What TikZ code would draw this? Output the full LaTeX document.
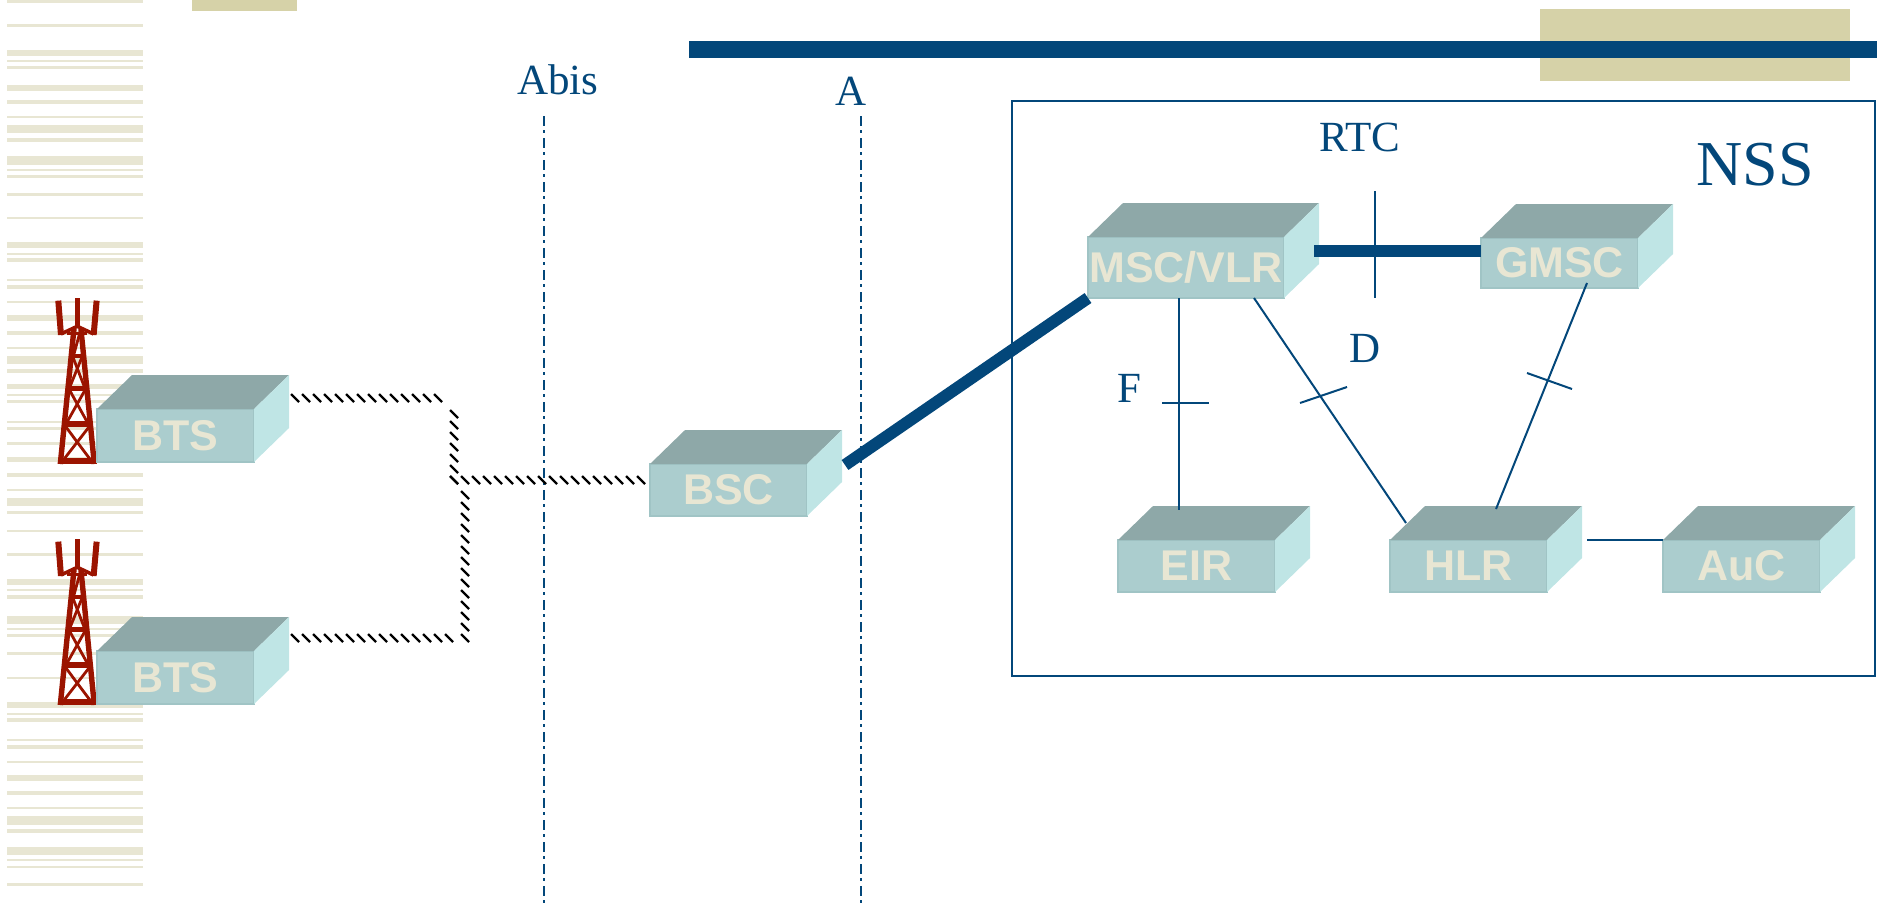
\documentclass[tikz,border=0pt]{standalone}
\usepackage{fontspec}
\setmainfont{Liberation Serif}
\setsansfont{Liberation Sans}
\usetikzlibrary{decorations.pathreplacing}

\definecolor{navy}{HTML}{03477A}
\definecolor{tan}{HTML}{D6D2A8}
\definecolor{barcol}{HTML}{E8E6D3}
\definecolor{boxfront}{HTML}{ABCDCE}
\definecolor{boxedge}{HTML}{A0C4C5}
\definecolor{boxtop}{HTML}{8EA8A8}
\definecolor{boxside}{HTML}{BFE5E5}
\definecolor{towercol}{HTML}{9B1400}

\tikzset{
    boxlabel/.style={fill=boxfront, draw=boxedge, line width=1pt, inner sep=0pt, outer sep=0pt, anchor=north west,
        font=\sffamily\bfseries\fontsize{21.5}{24}\selectfont, text=barcol},
    ifacelabel/.style={text=navy, font=\fontsize{21.5}{24}\selectfont, inner sep=0pt},
    thinlink/.style={navy, line width=1pt},
    thicklink/.style={navy, line width=6pt},
    iface/.style={navy, line width=1pt, dash pattern=on 5pt off 2pt on 1.5pt off 2.5pt},
    hatchh/.style={black, line width=1.1pt, decorate, decoration={border, segment length=5.5pt, amplitude=5.6pt, angle=135}},
    hatchv/.style={black, line width=1.1pt, decorate, decoration={border, segment length=5.5pt, amplitude=5.6pt, angle=45}},
    tower/.pic={
        \begin{scope}[x=0.1667pt, y=-0.1667pt, towercol]
            \draw[line width=3pt] (-57,-490) -- (-49,-387);
            \draw[line width=3pt] (58,-490) -- (49,-387);
            \draw[line width=2.2pt] (1,-497) -- (1,-415);
            \draw[line width=1.8pt] (-49,-390) -- (0,-413) -- (49,-390);
            \draw[line width=1.8pt] (-30,-392) -- (30,-392);
            \draw[line width=2.7pt] (-51,0) -- (-10,-405);
            \draw[line width=2.7pt] (51,0) -- (11,-405);
            \draw[line width=2pt] (-15,-325) -- (15,-325);
            \draw[line width=2.2pt] (-25,-227) -- (25,-227);
            \draw[line width=3pt] (-37,-120) -- (38,-120);
            \draw[line width=3pt] (-51,-8) -- (51,-8);
            \draw[line width=1.4pt] (-37,-115) -- (43,-8);
            \draw[line width=1.4pt] (38,-115) -- (-45,-8);
            \draw[line width=1.4pt] (-25,-225) -- (33,-120);
            \draw[line width=1.4pt] (25,-225) -- (-34,-120);
            \draw[line width=1.4pt] (-14,-323) -- (23,-227);
            \draw[line width=1.4pt] (15,-323) -- (-24,-227);
            \draw[line width=1.4pt] (-10,-330) -- (8,-395);
        \end{scope}
    }
}

% name, x, y, width, height, label
\newcommand{\netbox}[6]{
    \node[boxlabel, minimum width=#4*0.5pt, minimum height=#5*0.5pt] (#1) at (#2,#3) {#6};
    \fill[boxtop] (#1.north west) -- ++(35,-34) -- ([shift={(35,-34)}]#1.north east) -- (#1.north east) -- cycle;
    \fill[boxside] (#1.north east) -- ++(35,-34) -- ([shift={(35,-34)}]#1.south east) -- (#1.south east) -- cycle;
}

\begin{document}
\begin{tikzpicture}[x=0.5pt, y=-0.5pt]
    \useasboundingbox (0,0) rectangle (1877,906);

    % left stripes: y, height
    \foreach \y/\h in {0/3,24/3,50/6,60/2,66/3,85/6,100/4,116/2,125/8,138/4,156/9,169/2,175/3,193/3,217/2,242/6,253/2,258/4,279/2,285/4,
        301/2,315/6,331/4,347/2,356/8,369/4,384/5,394/2,400/3,421/2,427/3,442/3,457/5,473/4,489/2,498/8,511/3,530/2,553/3,579/6,
        589/2,595/4,616/8,628/2,634/3,652/3,677/2,702/6,713/2,718/4,739/2,745/4,761/2,775/6,791/4,807/2,816/9,829/4,847/8,859/2,866/2,883/3}
        \fill[barcol] (7,\y) rectangle (143,\y+\h);

    % header
    \fill[tan] (192,0) rectangle (297,11);
    \fill[tan] (1540,9) rectangle (1850,81);
    \fill[navy] (689,41) rectangle (1877,58);

    % interfaces
    \draw[iface] (544,116) -- (544,904);
    \draw[iface] (860.5,116) -- (860.5,904);
    \node[ifacelabel] (abis) at (558,80) {Abis};
    \node[ifacelabel] (a) at (851,91) {A};

    \draw[navy, line width=1pt] (1012,101) rectangle (1875,676);
    \node[ifacelabel] (rtc) at (1360,137) {RTC};
    \node[ifacelabel, font=\fontsize{32}{36}\selectfont] (nss) at (1755,165) {NSS};
    \node[ifacelabel] (d) at (1365,348) {D};
    \node[ifacelabel] (f) at (1129,388) {F};

    % towers go under the boxes
    \pic at (77.3,464) {tower};
    \pic at (77.3,705) {tower};

    \netbox{bts1}{97}{409}{157}{53}{BTS}
    \netbox{bts2}{97}{651}{157}{53}{BTS}
    \netbox{bsc}{650}{464}{157}{52}{BSC}
    \netbox{msc}{1088}{237}{196}{61}{MSC/VLR}
    \netbox{gmsc}{1481}{238}{157}{50}{GMSC}
    \netbox{eir}{1118}{540}{157}{52}{EIR}
    \netbox{hlr}{1390}{540}{157}{52}{HLR}
    \netbox{auc}{1663}{540}{157}{52}{AuC}

    % Abis links
    \coordinate (turna) at (458,402);
    \coordinate (turnb) at (458,484);
    \coordinate (turnc) at (469,484);
    \coordinate (turnd) at (469,642);
    \draw[hatchh] ([shift={(45,-7)}]bts1.north east) -- (turna);
    \draw[hatchv] (turnb) -- (turna);
    \draw[hatchh] (turnb) -- ([shift={(8,20)}]bsc.north west);
    \draw[hatchv] (turnd) -- (turnc);
    \draw[hatchh] ([shift={(45,-9)}]bts2.north east) -- (turnd);

    % NSS links
    \draw[thicklink] ([shift={(38,1)}]bsc.north east) -- (msc.south west);
    \draw[thicklink] ([shift={(30,14)}]msc.north east) -- ([shift={(0,13)}]gmsc.north west);
    \draw[thinlink] ([xshift=45.5pt]msc.south west) -- ([xshift=30.5pt,yshift=15pt]eir.north west);
    \draw[thinlink] ([xshift=83pt]msc.south west) -- ([shift={(16,-17)}]hlr.north west);
    \draw[thinlink] ([shift={(-51,-5)}]gmsc.south east) -- ([shift={(106,-31)}]hlr.north west);
    \draw[thinlink] ([shift={(40,0)}]hlr.north east) -- (auc.north west);

    % ticks
    \draw[thinlink] (1375,191) -- (1375,298);
    \draw[thinlink] (1162,403) -- (1209,403);
    \draw[thinlink] (1300,403) -- (1347,387);
    \draw[thinlink] (1527,373) -- (1572,389);
\end{tikzpicture}
\end{document}
